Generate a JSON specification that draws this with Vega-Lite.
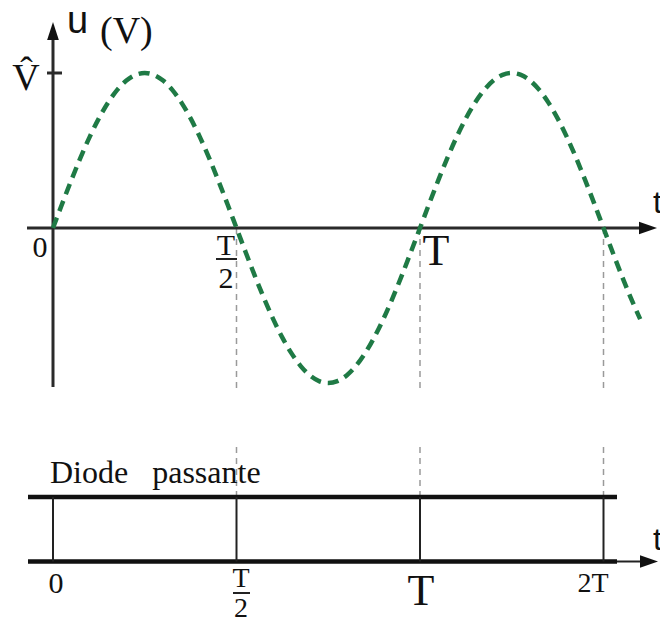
{
  "$schema": "https://vega.github.io/schema/vega-lite/v6.json",
  "width": 660,
  "height": 622,
  "autosize": {"type": "none"},
  "padding": 0,
  "background": "white",
  "config": {"view": {"stroke": null}},
  "datasets": {
    "wave": [
      {"t": 0, "v": 0}, {"t": 0.025, "v": 0.1564}, {"t": 0.05, "v": 0.309}, {"t": 0.075, "v": 0.454},
      {"t": 0.1, "v": 0.5878}, {"t": 0.125, "v": 0.7071}, {"t": 0.15, "v": 0.809}, {"t": 0.175, "v": 0.891},
      {"t": 0.2, "v": 0.9511}, {"t": 0.225, "v": 0.9877}, {"t": 0.25, "v": 1}, {"t": 0.275, "v": 0.9877},
      {"t": 0.3, "v": 0.9511}, {"t": 0.325, "v": 0.891}, {"t": 0.35, "v": 0.809}, {"t": 0.375, "v": 0.7071},
      {"t": 0.4, "v": 0.5878}, {"t": 0.425, "v": 0.454}, {"t": 0.45, "v": 0.309}, {"t": 0.475, "v": 0.1564},
      {"t": 0.5, "v": 0}, {"t": 0.525, "v": -0.1564}, {"t": 0.55, "v": -0.309}, {"t": 0.575, "v": -0.454},
      {"t": 0.6, "v": -0.5878}, {"t": 0.625, "v": -0.7071}, {"t": 0.65, "v": -0.809}, {"t": 0.675, "v": -0.891},
      {"t": 0.7, "v": -0.9511}, {"t": 0.725, "v": -0.9877}, {"t": 0.75, "v": -1}, {"t": 0.775, "v": -0.9877},
      {"t": 0.8, "v": -0.9511}, {"t": 0.825, "v": -0.891}, {"t": 0.85, "v": -0.809}, {"t": 0.875, "v": -0.7071},
      {"t": 0.9, "v": -0.5878}, {"t": 0.925, "v": -0.454}, {"t": 0.95, "v": -0.309}, {"t": 0.975, "v": -0.1564},
      {"t": 1.0, "v": 0}, {"t": 1.025, "v": 0.1564}, {"t": 1.05, "v": 0.309}, {"t": 1.075, "v": 0.454},
      {"t": 1.1, "v": 0.5878}, {"t": 1.125, "v": 0.7071}, {"t": 1.15, "v": 0.809}, {"t": 1.175, "v": 0.891},
      {"t": 1.2, "v": 0.9511}, {"t": 1.225, "v": 0.9877}, {"t": 1.25, "v": 1}, {"t": 1.275, "v": 0.9877},
      {"t": 1.3, "v": 0.9511}, {"t": 1.325, "v": 0.891}, {"t": 1.35, "v": 0.809}, {"t": 1.375, "v": 0.7071},
      {"t": 1.4, "v": 0.5878}, {"t": 1.425, "v": 0.454}, {"t": 1.45, "v": 0.309}, {"t": 1.475, "v": 0.1564},
      {"t": 1.5, "v": 0}, {"t": 1.525, "v": -0.1564}, {"t": 1.55, "v": -0.309}, {"t": 1.575, "v": -0.454},
      {"t": 1.6, "v": -0.5878}
    ],
    "guides": [
      {"t": 0.5, "v": 0, "v2": -1.045}, {"t": 1, "v": 0, "v2": -1.045}, {"t": 1.5, "v": 0, "v2": -1.045},
      {"t": 0.5, "v": -1.4129, "v2": -1.7355}, {"t": 1, "v": -1.4129, "v2": -1.7355}, {"t": 1.5, "v": -1.4129, "v2": -1.7355}
    ],
    "axes": [
      {"t": -0.0708, "t2": 1.6131, "v": 0, "v2": 0},
      {"t": 0, "t2": 0, "v": -1.0258, "v2": 1.26},
      {"t": -0.0163, "t2": 0.0245, "v": 1, "v2": 1}
    ],
    "rails": [
      {"t": -0.0681, "t2": 1.5368, "v": -1.7355, "v2": -1.7355},
      {"t": -0.0681, "t2": 1.5368, "v": -2.1516, "v2": -2.1516}
    ],
    "posts": [
      {"t": 0, "t2": 0, "v": -1.7355, "v2": -2.1516},
      {"t": 0.5, "t2": 0.5, "v": -1.7355, "v2": -2.1516},
      {"t": 1, "t2": 1, "v": -1.7355, "v2": -2.1516},
      {"t": 1.5, "t2": 1.5, "v": -1.7355, "v2": -2.1516},
      {"t": 1.5368, "t2": 1.6131, "v": -2.1516, "v2": -2.1516}
    ],
    "fractionBars": [
      {"t": 0.4441, "t2": 0.5014, "v": -0.2, "v2": -0.2},
      {"t": 0.4905, "t2": 0.5368, "v": -2.3548, "v2": -2.3548}
    ]
  },
  "encoding": {
    "x": {"field": "t", "type": "quantitative", "scale": {"domain": [-0.144414, 1.653951], "nice": false, "zero": false}, "axis": null},
    "y": {"field": "v", "type": "quantitative", "scale": {"domain": [-2.541935, 1.470968], "nice": false, "zero": false}, "axis": null}
  },
  "layer": [
    {
      "data": {"name": "guides"},
      "mark": {"type": "rule", "color": "#9a9a9a", "strokeWidth": 1.5, "strokeDash": [6, 5]},
      "encoding": {"y2": {"field": "v2"}}
    },
    {
      "data": {"name": "axes"},
      "mark": {"type": "rule", "color": "#2a2a2a", "strokeWidth": 3},
      "encoding": {"x2": {"field": "t2"}, "y2": {"field": "v2"}}
    },
    {
      "data": {"name": "rails"},
      "mark": {"type": "rule", "color": "#111111", "strokeWidth": 4.5},
      "encoding": {"x2": {"field": "t2"}, "y2": {"field": "v2"}}
    },
    {
      "data": {"name": "posts"},
      "mark": {"type": "rule", "color": "#222222", "strokeWidth": 2},
      "encoding": {"x2": {"field": "t2"}, "y2": {"field": "v2"}}
    },
    {
      "data": {"values": [{"t": 0, "v": 1.271}]},
      "mark": {"type": "point", "shape": "M0,-1L0.65,1L-0.65,1Z", "size": 324, "filled": true, "color": "#111111", "opacity": 1}
    },
    {
      "data": {"values": [{"t": 1.6213, "v": 0}, {"t": 1.624, "v": -2.1516}]},
      "mark": {"type": "point", "shape": "M1,0L-1,-0.7L-1,0.7Z", "size": 324, "filled": true, "color": "#111111", "opacity": 1}
    },
    {
      "data": {"name": "wave"},
      "mark": {"type": "line", "color": "#1f7a45", "strokeWidth": 4.5, "strokeDash": [11, 7], "interpolate": "monotone"}
    },
    {
      "data": {"name": "fractionBars"},
      "mark": {"type": "rule", "color": "#222222", "strokeWidth": 2},
      "encoding": {"x2": {"field": "t2"}, "y2": {"field": "v2"}}
    },
    {
      "data": {"values": [{"t": 1.0436, "v": -0.2387, "label": "T"}, {"t": 1.0027, "v": -2.4323, "label": "T"}]},
      "mark": {"type": "text", "font": "Liberation Serif", "fontSize": 44, "align": "center", "baseline": "alphabetic", "color": "#111111"},
      "encoding": {"text": {"field": "label"}}
    },
    {
      "data": {"values": [{"t": 0.4714, "v": -0.1742, "label": "T"}, {"t": 0.4714, "v": -0.3871, "label": "2"}]},
      "mark": {"type": "text", "font": "Liberation Serif", "fontSize": 30, "align": "center", "baseline": "alphabetic", "color": "#111111"},
      "encoding": {"text": {"field": "label"}}
    },
    {
      "data": {"values": [
        {"t": -0.0354, "v": -0.187, "label": "0"},
        {"t": 0.0082, "v": -2.3548, "label": "0"}
      ]},
      "mark": {"type": "text", "font": "Liberation Serif", "fontSize": 30, "align": "center", "baseline": "alphabetic", "color": "#111111"},
      "encoding": {"text": {"field": "label"}}
    },
    {
      "data": {"values": [
        {"t": 0.5123, "v": -2.3161, "label": "T"},
        {"t": 0.5123, "v": -2.5097, "label": "2"},
        {"t": 1.4714, "v": -2.3484, "label": "2T"}
      ]},
      "mark": {"type": "text", "font": "Liberation Serif", "fontSize": 28, "align": "center", "baseline": "alphabetic", "color": "#111111"},
      "encoding": {"text": {"field": "label"}}
    },
    {
      "data": {"values": [{"t": -0.0736, "v": 0.8903, "label": "V\u0302"}]},
      "mark": {"type": "text", "font": "Liberation Serif", "fontSize": 38, "align": "center", "baseline": "alphabetic", "color": "#111111"},
      "encoding": {"text": {"field": "label"}}
    },
    {
      "data": {"values": [{"t": 0.1281, "v": 1.1935, "label": "(V)"}]},
      "mark": {"type": "text", "font": "Liberation Serif", "fontSize": 38, "align": "left", "baseline": "alphabetic", "color": "#111111"},
      "encoding": {"text": {"field": "label"}}
    },
    {
      "data": {"values": [{"t": -0.0082, "v": -1.645, "label": "Diode\u00a0\u00a0 passante"}]},
      "mark": {"type": "text", "font": "Liberation Serif", "fontSize": 32, "align": "left", "baseline": "alphabetic", "color": "#111111"},
      "encoding": {"text": {"field": "label"}}
    },
    {
      "data": {"values": [{"t": 0.0381, "v": 1.258, "label": "u"}]},
      "mark": {"type": "text", "font": "Liberation Sans", "fontSize": 38, "align": "left", "baseline": "alphabetic", "color": "#111111"},
      "encoding": {"text": {"field": "label"}}
    },
    {
      "data": {"values": [{"t": 1.6349, "v": 0.0968, "label": "t"}, {"t": 1.6349, "v": -2.0774, "label": "t"}]},
      "mark": {"type": "text", "font": "Liberation Sans", "fontSize": 32, "align": "left", "baseline": "alphabetic", "color": "#111111"},
      "encoding": {"text": {"field": "label"}}
    }
  ]
}
